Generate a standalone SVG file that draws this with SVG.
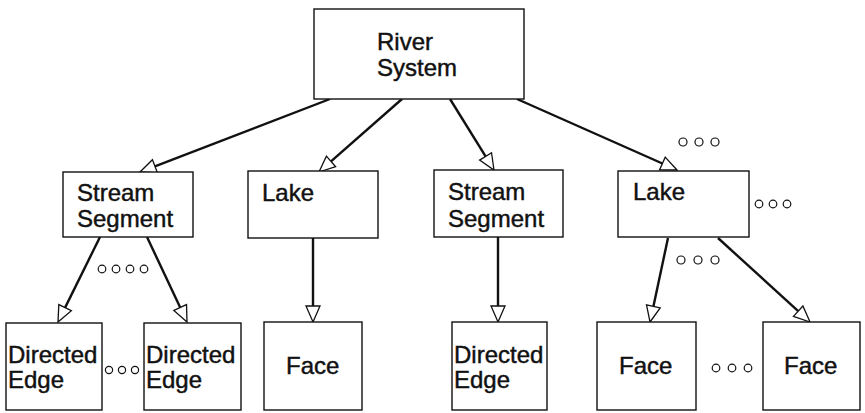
<svg xmlns="http://www.w3.org/2000/svg" width="865" height="413" viewBox="0 0 865 413">
<style>
  .box { fill: #fff; stroke: #111; stroke-width: 1.4; }
  .lbl { font-family: "Liberation Sans", Arial, sans-serif; font-size: 24px; fill: #111; stroke: #111; stroke-width: 0.45; }
  .edge { stroke: #111; stroke-width: 2.4; fill: none; }
  .head { fill: #fff; stroke: #111; stroke-width: 1.3; stroke-linejoin: miter; }
  .dot { fill: none; stroke: #111; stroke-width: 1.2; }
</style>
<defs>
  <path id="open" class="head" d="M0,0 L-16,-7 L-16,7 Z"/>
</defs>
<rect width="865" height="413" fill="#fff"/>

<g id="connectors">
  <line class="edge" x1="330" y1="99" x2="154.9" y2="166.3"/>
  <line class="edge" x1="402" y1="99" x2="331.0" y2="161.4"/>
  <line class="edge" x1="450" y1="99" x2="485.6" y2="156.4"/>
  <line class="edge" x1="517" y1="99" x2="662.4" y2="163.5"/>
  <line class="edge" x1="100" y1="237" x2="65.1" y2="307.6"/>
  <line class="edge" x1="147" y1="237" x2="180.2" y2="307.5"/>
  <line class="edge" x1="313" y1="238" x2="313" y2="306"/>
  <line class="edge" x1="498" y1="237" x2="498" y2="306"/>
  <line class="edge" x1="668" y1="238" x2="653.4" y2="306.4"/>
  <line class="edge" x1="718" y1="238" x2="798.2" y2="311.2"/>
  <use href="#open" transform="translate(140,172) rotate(159)"/>
  <use href="#open" transform="translate(319,172) rotate(138.7)"/>
  <use href="#open" transform="translate(494,170) rotate(58.2)"/>
  <use href="#open" transform="translate(677,170) rotate(23.9)"/>
  <use href="#open" transform="translate(58,322) rotate(116.3)"/>
  <use href="#open" transform="translate(187,322) rotate(64.8)"/>
  <use href="#open" transform="translate(313,322) rotate(90)"/>
  <use href="#open" transform="translate(498,322) rotate(90)"/>
  <use href="#open" transform="translate(650,322) rotate(102.1)"/>
  <use href="#open" transform="translate(810,322) rotate(42.4)"/>
</g>

<g id="river-system">
  <rect class="box" x="314" y="9" width="210" height="90"/>
  <text class="lbl" x="377" y="50">River</text>
  <text class="lbl" x="377" y="76">System</text>
</g>

<g id="stream-segment-1">
  <rect class="box" x="63" y="172" width="130" height="65"/>
  <text class="lbl" x="77" y="201">Stream</text>
  <text class="lbl" x="77" y="227">Segment</text>
</g>
<g id="lake-1">
  <rect class="box" x="248" y="171" width="130" height="67"/>
  <text class="lbl" x="262" y="201">Lake</text>
</g>
<g id="stream-segment-2">
  <rect class="box" x="434" y="170" width="129" height="67"/>
  <text class="lbl" x="448" y="200">Stream</text>
  <text class="lbl" x="448" y="227">Segment</text>
</g>
<g id="lake-2">
  <rect class="box" x="618" y="171" width="131" height="66"/>
  <text class="lbl" x="633" y="200">Lake</text>
</g>

<g id="directed-edge-1">
  <rect class="box" x="6" y="323" width="96" height="87"/>
  <text class="lbl" x="8" y="363">Directed</text>
  <text class="lbl" x="8" y="388">Edge</text>
</g>
<g id="directed-edge-2">
  <rect class="box" x="144" y="323" width="97" height="87"/>
  <text class="lbl" x="146" y="363">Directed</text>
  <text class="lbl" x="146" y="388">Edge</text>
</g>
<g id="face-1">
  <rect class="box" x="264" y="322" width="98" height="88"/>
  <text class="lbl" x="286" y="374">Face</text>
</g>
<g id="directed-edge-3">
  <rect class="box" x="452" y="322" width="95" height="88"/>
  <text class="lbl" x="454" y="363">Directed</text>
  <text class="lbl" x="454" y="388">Edge</text>
</g>
<g id="face-2">
  <rect class="box" x="597" y="322" width="99" height="88"/>
  <text class="lbl" x="619" y="374">Face</text>
</g>
<g id="face-3">
  <rect class="box" x="763" y="322" width="97" height="88"/>
  <text class="lbl" x="784" y="374">Face</text>
</g>

<g id="ellipses">
  <circle class="dot" cx="683" cy="142" r="4"/>
  <circle class="dot" cx="699" cy="142" r="4"/>
  <circle class="dot" cx="715" cy="142" r="4"/>

  <circle class="dot" cx="759" cy="204" r="3.8"/>
  <circle class="dot" cx="773" cy="204" r="3.8"/>
  <circle class="dot" cx="787" cy="204" r="3.8"/>

  <circle class="dot" cx="681" cy="260" r="4"/>
  <circle class="dot" cx="698" cy="260" r="4"/>
  <circle class="dot" cx="715" cy="260" r="4"/>

  <circle class="dot" cx="102" cy="269" r="3.8"/>
  <circle class="dot" cx="116" cy="269" r="3.8"/>
  <circle class="dot" cx="130" cy="269" r="3.8"/>
  <circle class="dot" cx="144" cy="269" r="3.8"/>

  <circle class="dot" cx="109" cy="370" r="3.6"/>
  <circle class="dot" cx="122" cy="370" r="3.6"/>
  <circle class="dot" cx="135" cy="370" r="3.6"/>

  <circle class="dot" cx="716" cy="368" r="3.8"/>
  <circle class="dot" cx="732" cy="368" r="3.8"/>
  <circle class="dot" cx="748" cy="368" r="3.8"/>
</g>
</svg>
